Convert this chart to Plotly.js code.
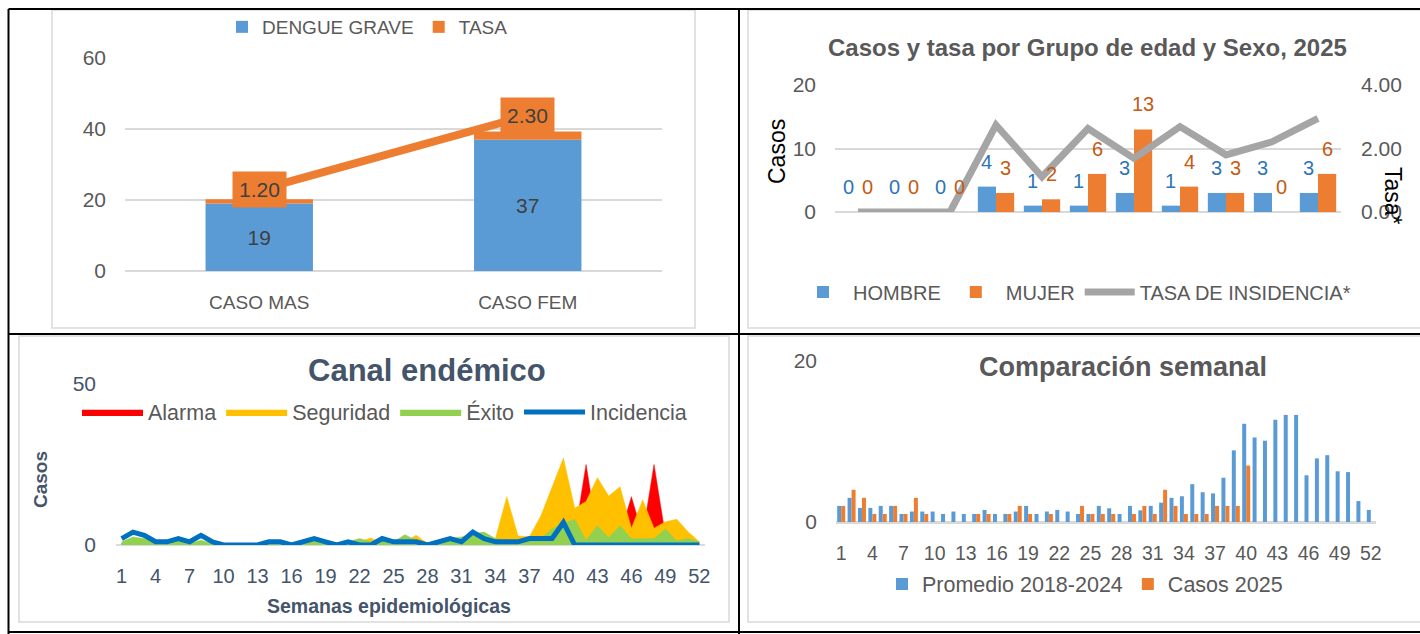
<!DOCTYPE html>
<html>
<head>
<meta charset="utf-8">
<script src="https://cdn.plot.ly/plotly-3.0.1.min.js"></script>
<style>
html,body{margin:0;padding:0;background:#ffffff;}
#chart{width:1420px;height:634px;}
</style>
</head>
<body>
<div id="chart"></div>
<script>
// ---------- Panel 1: Dengue grave por sexo ----------
const sexCategories = ["CASO MAS", "CASO FEM"];
const dengueGrave = [19, 37];
const tasaSexo = [1.20, 2.30];

// ---------- Panel 2: Casos y tasa por grupo de edad y sexo ----------
const ageGroups = ["<1", "1-4", "5-9", "10-14", "15-19", "20-29", "30-39", "40-49", "50-59", "60-69", "70+"];
const hombre = [0, 0, 0, 4, 1, 1, 3, 1, 3, 3, 3];
const mujer = [0, 0, 0, 3, 2, 6, 13, 4, 3, 0, 6];
const tasaIncidencia = [0, 0, 0, 2.74, 1.11, 2.63, 1.69, 2.69, 1.80, 2.21, 2.95];

// ---------- Panels 3 & 4: semanas epidemiológicas ----------
const weeks = [1,2,3,4,5,6,7,8,9,10,11,12,13,14,15,16,17,18,19,20,21,22,23,24,25,26,
               27,28,29,30,31,32,33,34,35,36,37,38,39,40,41,42,43,44,45,46,47,48,49,50,51,52];
const weekTicks = [1,4,7,10,13,16,19,22,25,28,31,34,37,40,43,46,49,52];

const alarma = [0.5,1.5,1,0.3,0.3,0.8,0.3,0.8,0.3,0.1,0.1,0.1,0.1,0.3,0.3,0.2,0.3,0.8,0.3,0.2,0.3,0.8,1,0.3,0.3,0.8,
                1,0.3,0.3,0.8,1,2,2,1,5,2,2,5,10,15,3,25,3,5,3,15,3,25,3,3,2,0.5];
const seguridad = [0.5,2,1.5,0.5,0.5,1,0.5,1,0.5,0.2,0.2,0.2,0.2,0.5,0.5,0.3,0.5,1,0.5,0.3,0.5,1,2.2,0.5,0.5,1,
                   3,0.5,0.5,1,1.5,3,3,2,15,2.8,2.6,9,18,27,11.4,13.5,20.9,15.2,18.1,5.2,14,5.2,7.2,8,4.1,1];
const exito = [1,2.5,2,1,0.5,1.5,0.5,1.5,0.5,0.3,0.3,0.3,0.3,0.5,0.5,0.5,1,1.5,1,0.5,1,2,1,1,1,3.2,
               1.5,0.5,1,2,2.5,3.5,4,2,1.5,1.5,1.5,2,5,6.7,8,1.5,6,2.3,6,2,2,2,5,1.3,2,1];
const casos2025 = [2,4,3,1,1,2,1,3,1,0,0,0,0,1,1,0,1,2,1,0,1,0,0,2,1,1,
                   1,0,1,2,1,4,2,1,1,1,2,2,2,7,0,0,0,0,0,0,0,0,0,0,0,0];
const promedio = [2,3,1.75,1.75,2,2,1,1.3,1.3,1.3,1,1.3,1,1,1.5,1,1,1.3,2,1,1.3,1.5,1.3,1,1,2,
                  1.7,1,2,1.45,2,2.4,3,3.2,4.7,3.7,3.55,5.5,8.9,12.2,10.5,10.1,12.7,13.3,13.3,5.8,7.9,8.3,6.3,6.2,2.6,1.5];

// ---------- helpers (page pixels -> paper fractions) ----------
const W = 1420, H = 634;
const px = v => v / W;
const py = v => 1 - v / H;
const FONT = "Liberation Sans, Arial, sans-serif";
const GRAY = "#595959";
const SLATE = "#44546a";

const traces = [
  // Panel 1
  {type:"bar", x:sexCategories, y:dengueGrave, name:"DENGUE GRAVE", xaxis:"x", yaxis:"y", legend:"legend",
   width:0.4, marker:{color:"#5b9bd5"}, text:dengueGrave.map(String), textposition:"inside",
   insidetextanchor:"middle", textfont:{size:21, color:"#404040", family:FONT}, hoverinfo:"x+y"},
  {type:"bar", x:sexCategories, y:tasaSexo, base:dengueGrave, name:"TASA", xaxis:"x", yaxis:"y", legend:"legend",
   width:0.4, marker:{color:"#ed7d31"}, hoverinfo:"x+y"},
  {type:"scatter", mode:"lines", x:sexCategories, y:tasaSexo, xaxis:"x", yaxis:"y2", showlegend:false,
   line:{color:"#ed7d31", width:8}, hoverinfo:"x+y"},

  // Panel 2
  {type:"bar", x:ageGroups, y:hombre, name:"HOMBRE", xaxis:"x2", yaxis:"y3", legend:"legend2",
   width:0.395, offset:-0.395, marker:{color:"#5b9bd5"}},
  {type:"bar", x:ageGroups, y:mujer, name:"MUJER", xaxis:"x2", yaxis:"y3", legend:"legend2",
   width:0.395, offset:0, marker:{color:"#ed7d31"}},
  {type:"scatter", mode:"lines", x:ageGroups, y:tasaIncidencia, name:"TASA DE INSIDENCIA*", xaxis:"x2", yaxis:"y4",
   legend:"legend2", line:{color:"#a5a5a5", width:7}},

  // Panel 3
  {type:"scatter", mode:"lines", x:weeks, y:alarma, name:"Alarma", xaxis:"x3", yaxis:"y5", legend:"legend3",
   fill:"tozeroy", fillcolor:"#ff0000", line:{color:"#ff0000", width:0.5}},
  {type:"scatter", mode:"lines", x:weeks, y:seguridad, name:"Seguridad", xaxis:"x3", yaxis:"y5", legend:"legend3",
   fill:"tozeroy", fillcolor:"#ffc000", line:{color:"#ffc000", width:0.5}},
  {type:"scatter", mode:"lines", x:weeks, y:exito, name:"Éxito", xaxis:"x3", yaxis:"y5", legend:"legend3",
   fill:"tozeroy", fillcolor:"#92d050", line:{color:"#92d050", width:0.5}},
  {type:"scatter", mode:"lines", x:weeks, y:casos2025, name:"Incidencia", xaxis:"x3", yaxis:"y5", legend:"legend3",
   line:{color:"#0070c0", width:5}},

  // Panel 4
  {type:"bar", x:weeks, y:promedio, name:"Promedio 2018-2024", xaxis:"x4", yaxis:"y6", legend:"legend4",
   width:0.385, offset:-0.385, marker:{color:"#5b9bd5"}},
  {type:"bar", x:weeks, y:casos2025, name:"Casos 2025", xaxis:"x4", yaxis:"y6", legend:"legend4",
   width:0.385, offset:0, marker:{color:"#ed7d31"}}
];

const grid = {gridcolor:"#d9d9d9", gridwidth:1.5, zeroline:true, zerolinecolor:"#d9d9d9", zerolinewidth:1.5,
              showline:false, ticks:"", fixedrange:true};

const annotations = [];
// Panel 1 value boxes for TASA
sexCategories.forEach((c, i) => {
  annotations.push({xref:"x", yref:"y2", x:c, y:tasaSexo[i], text:tasaSexo[i].toFixed(2), showarrow:false,
    xanchor:"center", yanchor:"middle", bgcolor:"#ed7d31", borderpad:6, font:{size:21, color:"#404040", family:FONT}});
});
// Panel 2 data labels
ageGroups.forEach((g, i) => {
  annotations.push({xref:"x2", yref:"y3", x:g, y:hombre[i], xshift:-9.1, yshift:25, text:String(hombre[i]),
    xanchor:"center", yanchor:"middle", showarrow:false, font:{size:20, color:"#2e75b6", family:FONT}});
  annotations.push({xref:"x2", yref:"y3", x:g, y:mujer[i], xshift:9.1, yshift:25, text:String(mujer[i]),
    xanchor:"center", yanchor:"middle", showarrow:false, font:{size:20, color:"#c55a11", family:FONT}});
});
// Titles & axis titles
const label = (x, y, text, size, color, angle) => ({xref:"paper", yref:"paper", x:px(x), y:py(y), text:text,
  textangle:angle || 0, xanchor:"center", yanchor:"middle", showarrow:false, font:{size:size, color:color, family:FONT}});
annotations.push(
  label(1087, 48, "<b>Casos y tasa por Grupo de edad y Sexo, 2025</b>", 24, GRAY),
  label(777, 152, "Casos", 23, "#000000", -90),
  label(1393, 196, "Tasa*", 23, "#000000", 90),
  label(427, 370, "<b>Canal endémico</b>", 31, SLATE),
  label(40, 480, "<b>Casos</b>", 19, SLATE, -90),
  label(389, 606, "<b>Semanas epidemiológicas</b>", 19.5, SLATE),
  label(1123, 367, "<b>Comparación semanal</b>", 27, GRAY)
);

const frame = (x0, y0, x1, y1) => ({type:"rect", xref:"paper", yref:"paper", x0:px(x0), x1:px(x1), y0:py(y1), y1:py(y0),
  line:{color:"#d9d9d9", width:1.5}, fillcolor:"rgba(0,0,0,0)", layer:"below"});
const blk = (x0, y0, x1, y1) => ({type:"line", xref:"paper", yref:"paper", x0:px(x0), x1:px(x1), y0:py(y0), y1:py(y1),
  line:{color:"#000000", width:2}, layer:"above"});

const shapes = [
  frame(52, 10, 695, 328),
  frame(748, 10, 1425, 328),
  frame(19, 336, 729, 622),
  frame(748, 336, 1425, 622),
  blk(8.5, 9, 1420, 9),
  blk(8.5, 9, 8.5, 634),
  blk(739, 9, 739, 634),
  blk(8.5, 334, 1420, 334),
  blk(8.5, 632, 1420, 632)
];

const legendBase = {orientation:"h", xanchor:"left", yanchor:"middle", bgcolor:"rgba(0,0,0,0)",
                    traceorder:"normal", itemclick:false, itemdoubleclick:false};

const layout = {
  width:W, height:H, margin:{l:0, r:0, t:0, b:0}, paper_bgcolor:"#ffffff", plot_bgcolor:"rgba(0,0,0,0)",
  font:{family:FONT, color:GRAY}, barmode:"overlay", showlegend:true, hovermode:"closest",
  // Panel 1
  xaxis:{domain:[px(125), px(662)], anchor:"y", type:"category", range:[-0.5, 1.5], showgrid:false, zeroline:false,
         ticks:"", ticklabelstandoff:18, tickfont:{size:19, color:GRAY}, fixedrange:true},
  yaxis:Object.assign({domain:[py(271), py(58)], anchor:"x", range:[0, 60], dtick:20, ticklabelstandoff:18,
         tickfont:{size:21, color:GRAY}}, grid),
  yaxis2:{overlaying:"y", anchor:"x", range:[0, 3.15], visible:false, fixedrange:true},
  // Panel 2
  xaxis2:{domain:[px(835), px(1341)], anchor:"y3", type:"category", range:[-0.5, 10.5], showgrid:false,
          zeroline:false, showticklabels:false, ticks:"", fixedrange:true},
  yaxis3:Object.assign({domain:[py(212), py(85)], anchor:"x2", range:[0, 20], dtick:10, ticklabelstandoff:18,
          tickfont:{size:21, color:GRAY}}, grid),
  yaxis4:{overlaying:"y3", anchor:"x2", side:"right", range:[0, 4], dtick:2, tickformat:".2f", showgrid:false,
          zeroline:false, ticks:"", ticklabelstandoff:19, tickfont:{size:21, color:GRAY}, fixedrange:true},
  // Panel 3
  xaxis3:{domain:[px(116), px(705)], anchor:"y5", range:[0.5, 52.5], tickmode:"array", tickvals:weekTicks,
          showgrid:false, zeroline:false, ticks:"", ticklabelstandoff:17, tickfont:{size:20, color:SLATE}, fixedrange:true},
  yaxis5:Object.assign({domain:[py(545), py(384)], anchor:"x3", range:[0, 50], dtick:50, ticklabelstandoff:19,
          tickfont:{size:21, color:SLATE}}, grid, {zerolinecolor:"#d6dce4"}),
  // Panel 4
  xaxis4:{domain:[px(836), px(1376)], anchor:"y6", range:[0.5, 52.5], tickmode:"array", tickvals:weekTicks,
          showgrid:false, zeroline:false, ticks:"", ticklabelstandoff:17, tickfont:{size:19.5, color:GRAY}, fixedrange:true},
  yaxis6:Object.assign({domain:[py(522), py(361)], anchor:"x4", range:[0, 20], dtick:20, ticklabelstandoff:18,
          tickfont:{size:21, color:GRAY}}, grid, {zerolinewidth:3}),
  legend:Object.assign({}, legendBase, {x:px(222), y:py(27), font:{size:19, color:GRAY}}),
  legend2:Object.assign({}, legendBase, {x:px(793), y:py(292), itemwidth:50, font:{size:20, color:GRAY}}),
  legend3:Object.assign({}, legendBase, {x:px(77), y:py(412), itemwidth:61, font:{size:21.5, color:GRAY}}),
  legend4:Object.assign({}, legendBase, {x:px(882), y:py(584), font:{size:21.5, color:GRAY}}),
  annotations:annotations,
  shapes:shapes
};

Plotly.newPlot("chart", traces, layout, {displayModeBar:false, staticPlot:false, responsive:false});
</script>
</body>
</html>
